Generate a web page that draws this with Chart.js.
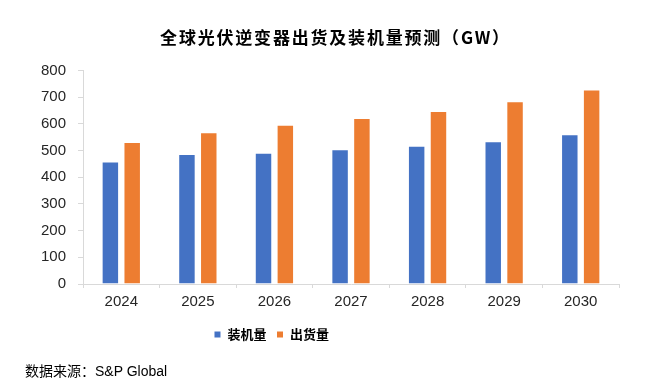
<!DOCTYPE html>
<html lang="zh">
<head>
    <meta charset="UTF-8">
    <title>全球光伏逆变器出货及装机量预测</title>
    <style>
        html, body { margin: 0; padding: 0; background: #fff; }
        #wrap { position: relative; width: 649px; height: 382px; }
        #source {
            position: absolute; left: 25px; top: 360px;
            font: 14px "Liberation Sans", "Noto Sans CJK SC", sans-serif;
            color: #000;
        }
    </style>
</head>
<body>
    <div id="wrap">
        <canvas id="chart" width="649" height="382"></canvas>
        <div id="source">数据来源：S&amp;P Global</div>
    </div>
    <script src="https://cdn.jsdelivr.net/npm/chart.js"></script>
    <script>
        const years = ['2024', '2025', '2026', '2027', '2028', '2029', '2030'];
        const installed = [459, 487, 492, 505, 518, 535, 561];  // 装机量
        const shipped = [532, 568, 596, 622, 648, 684, 728];    // 出货量

        // nudge title / legend to where the reference has them, and space out the title
        const shiftBoxes = {
            id: 'shiftBoxes',
            afterLayout(chart) {
                const lg = chart.legend, tb = chart.titleBlock;
                if (lg) { lg.left -= 38; lg.right -= 38; lg.top += 2; lg.bottom += 2; }
                if (tb) {
                    tb.left += 26; tb.right += 26;
                    if (!tb._spaced) {
                        const orig = tb.draw;
                        tb.draw = function () {
                            const ctx = this.ctx;
                            ctx.save();
                            ctx.letterSpacing = '1.8px';
                            orig.apply(this, arguments);
                            ctx.restore();
                        };
                        tb._spaced = true;
                    }
                }
            }
        };

        const axisColor = '#d9d9d9';
        const tickFont = { family: '"Liberation Sans", Arial, sans-serif', size: 15 };

        new Chart(document.getElementById('chart'), {
            type: 'bar',
            data: {
                labels: years,
                datasets: [{
                    label: '装机量',
                    data: installed,
                    backgroundColor: '#4472C4',
                    borderColor: '#ffffff',
                    borderWidth: 1
                }, {
                    label: '出货量',
                    data: shipped,
                    backgroundColor: '#ED7D31',
                    borderColor: '#ffffff',
                    borderWidth: 1
                }]
            },
            plugins: [shiftBoxes],
            options: {
                responsive: false,
                animation: false,
                layout: { padding: { left: 0, right: 30, top: 0, bottom: 33 } },
                datasets: { bar: { categoryPercentage: 0.57, barPercentage: 0.8 } },
                scales: {
                    x: {
                        grid: { drawOnChartArea: false, color: axisColor, tickLength: 4 },
                        border: { color: axisColor },
                        ticks: { font: tickFont, color: '#262626', padding: 5 }
                    },
                    y: {
                        min: 0, max: 800,
                        ticks: { stepSize: 100, font: tickFont, color: '#262626', padding: 12 },
                        grid: { drawOnChartArea: false, color: axisColor, tickLength: 5 },
                        border: { color: axisColor },
                        afterFit(scale) { scale.width = 83; }
                    }
                },
                plugins: {
                    title: {
                        display: true,
                        text: '全球光伏逆变器出货及装机量预测（GW）',
                        color: '#000',
                        font: { family: '"Noto Sans CJK SC", sans-serif', size: 17, weight: 'bold' },
                        padding: { top: 27, bottom: 23 }
                    },
                    legend: {
                        position: 'bottom',
                        labels: {
                            boxWidth: 7, boxHeight: 7,
                            padding: 10,
                            color: '#000',
                            font: { family: '"Noto Sans CJK SC", sans-serif', size: 13, weight: 'bold' }
                        }
                    },
                    tooltip: { enabled: false }
                }
            }
        });
    </script>
</body>
</html>
